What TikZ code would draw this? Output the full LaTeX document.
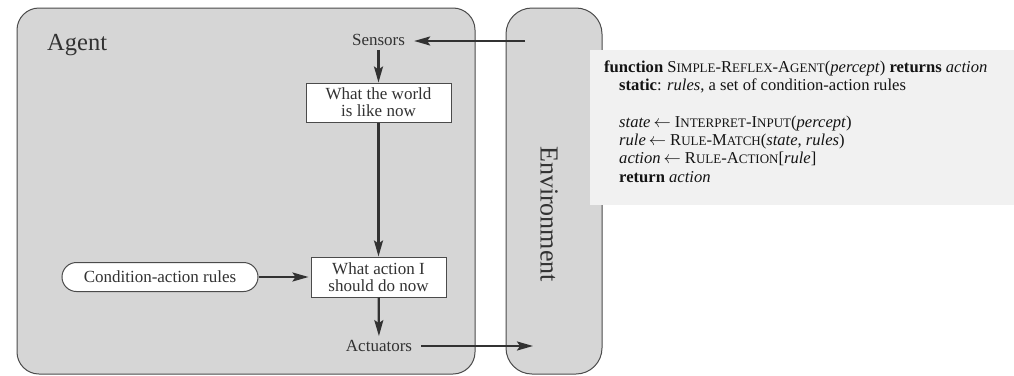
\documentclass[tikz,border=0pt]{standalone}
\usepackage{fontspec}
\setmainfont{Liberation Serif}
\usetikzlibrary{arrows.meta}

\definecolor{panel}{RGB}{214,214,214}
\definecolor{edge}{RGB}{75,75,75}
\definecolor{ink}{RGB}{50,50,50}
\definecolor{codebg}{RGB}{241,241,241}
\definecolor{codeink}{RGB}{20,20,20}

% label and code fonts
\newcommand\labelfont{\fontsize{17}{17}\selectfont}
\newcommand\titlefont{\fontsize{24.5}{24.5}\selectfont}
\newcommand\envfont{\fontsize{26}{26}\selectfont}
\newcommand\codefont{\fontsize{16.6}{18}\selectfont}
% faked small capitals for procedure names
\newcommand\lsc[1]{{\fontsize{13}{13}\selectfont #1}}
\newcommand\assignarrow{\kern3pt$\leftarrow$\kern4pt}

\begin{document}
\begin{tikzpicture}[x=1pt,y=-1pt,
  panelbox/.style={draw=edge, line width=1pt, fill=panel},
  stepbox/.style={draw=edge, line width=1pt, fill=white, align=center,
    inner sep=0pt, text=ink, font=\labelfont},
  rulebox/.style={draw=edge, line width=1pt, fill=white, rounded corners=14.5pt,
    inner sep=0pt, minimum height=29pt, minimum width=196pt, text=ink, font=\labelfont},
  lbl/.style={text=ink, font=\labelfont, inner xsep=9pt, inner ysep=4pt},
  codeline/.style={text=codeink, font=\codefont, anchor=base west, inner sep=0pt,
    text height=12pt, text depth=4pt},
  flow/.style={draw=ink, line width=2.2pt,
    -{Stealth[length=16pt,width=9pt,inset=3pt]}}
]
\useasboundingbox (0,0) rectangle (1014,375);

% agent and environment panels
\draw[panelbox, rounded corners=22pt] (17,8) rectangle (475,374);
\draw[panelbox, rounded corners=26pt] (506,8) rectangle (602,374);

\node[text=ink, font=\titlefont, anchor=base west, inner sep=0pt] (agent) at (47,50) {Agent};
\node[text=ink, font=\envfont, rotate=-90, inner sep=0pt] (env) at (549,214) {Environment};

% inside the agent
\node[lbl] (sensors) at (378.5,40) {Sensors};
\node[stepbox, minimum width=145pt, minimum height=39pt] (world) at (378.5,102.5)
  {What the world\\is like now};
\node[stepbox, minimum width=135pt, minimum height=40pt] (action) at (378.5,277)
  {What action I\\should do now};
\node[rulebox] (rules) at (160,277) {Condition-action rules};
\node[lbl] (actuators) at (379,346) {Actuators};

\coordinate (envin) at (525,41);
\coordinate (envout) at (533,346);

\draw[flow] (envin) -- (sensors.east |- envin);
\draw[flow] (sensors) -- (world);
\draw[flow] (world) -- (action);
\draw[flow, shorten >=2pt] (rules) -- (action);
\draw[flow] (action) -- (actuators);
\draw[flow] (actuators.east |- envout) -- (envout);

% program listing
\fill[codebg] (590,50) rectangle (1014,205);
\node[codeline] (p1) at (604,72)
  {\textbf{function} S\lsc{IMPLE}-R\lsc{EFLEX}-A\lsc{GENT}(\textit{percept}) \textbf{returns} \textit{action}};
\node[codeline] (p2) at (619,90.4)
  {\textbf{static}: \textit{rules}, a set of condition-action rules};
\node[codeline] (p3) at (619,127)
  {\textit{state}\assignarrow I\lsc{NTERPRET}-I\lsc{NPUT}(\textit{percept})};
\node[codeline] (p4) at (619,145.4)
  {\textit{rule}\assignarrow R\lsc{ULE}-M\lsc{ATCH}(\textit{state}, \textit{rules})};
\node[codeline] (p5) at (619,163.8)
  {\textit{action}\assignarrow R\lsc{ULE}-A\lsc{CTION}[\textit{rule}]};
\node[codeline] (p6) at (619,182.2)
  {\textbf{return} \textit{action}};
\end{tikzpicture}
\end{document}
